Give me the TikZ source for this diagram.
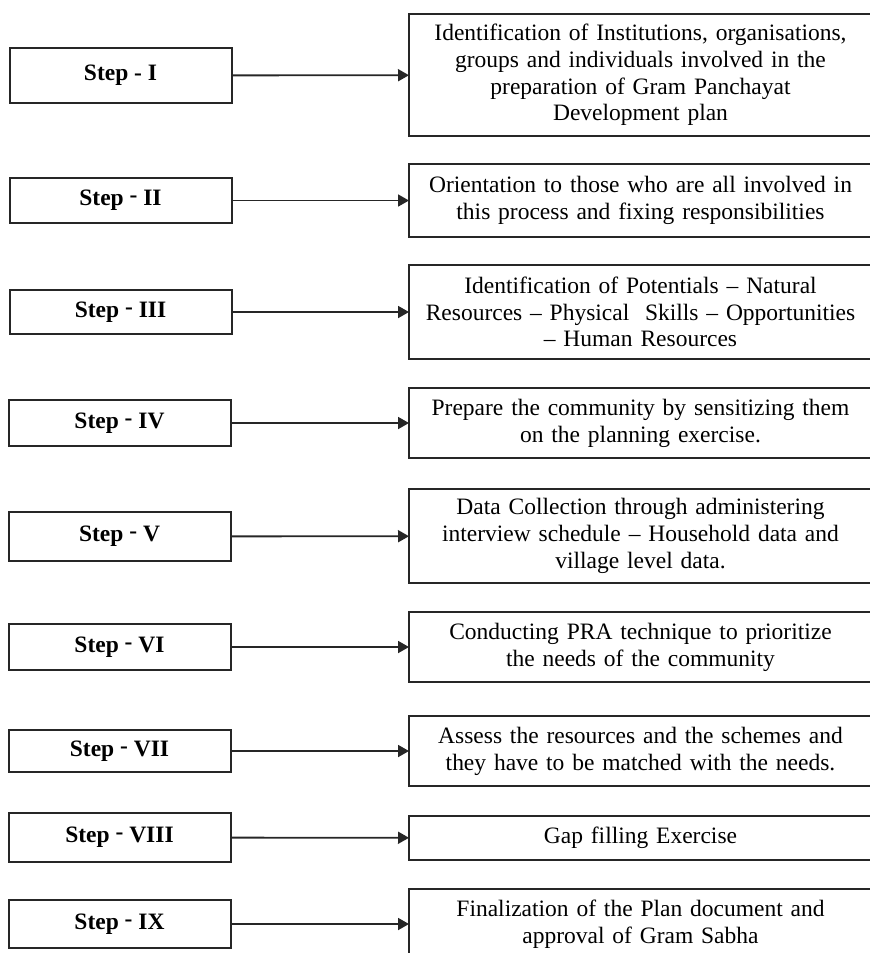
\documentclass[tikz,border=0pt]{standalone}
\usepackage{fontspec}
\setmainfont{Liberation Serif}
\usetikzlibrary{arrows.meta}

\tikzset{
  stepbox/.style={draw=black!85, line width=2pt, minimum width=222pt, inner sep=0pt, outer sep=0pt,
    font=\fontsize{23.5}{27}\selectfont\bfseries},
  descbox/.style={draw=black!85, line width=2pt, text width=446pt, inner xsep=8.5pt, inner ysep=0pt,
    outer sep=0pt, align=center, font=\fontsize{23.5}{26.8}\selectfont},
  link/.style={line width=1.8pt, draw=black!85, -{Triangle[length=11pt,width=12pt]}}
}
\newcommand{\stp}[1]{Step \raisebox{0.3ex}{-} #1}

\begin{document}
\begin{tikzpicture}[x=1pt,y=-1pt]
    \useasboundingbox (0,0) rectangle (870,953);
    \clip (0,0) rectangle (870,953);

    % Steps on the left
    \node[stepbox, minimum height=55pt] (s1) at (120.5,75.5) {Step - I};
    \node[stepbox, minimum height=45pt] (s2) at (120.5,200.5) {\stp{II}};
    \node[stepbox, minimum height=44pt] (s3) at (120.5,312) {\stp{III}};
    \node[stepbox, minimum height=46pt] (s4) at (119.5,423) {\stp{IV}};
    \node[stepbox, minimum height=49pt] (s5) at (119.5,536.5) {\stp{V}};
    \node[stepbox, minimum height=46pt] (s6) at (119.5,647) {\stp{VI}};
    \node[stepbox, minimum height=42pt] (s7) at (119.5,751) {\stp{VII}};
    \node[stepbox, minimum height=49pt] (s8) at (119.5,837.5) {\stp{VIII}};
    \node[stepbox, minimum height=48pt] (s9) at (119.5,924) {\stp{IX}};

    % Descriptions on the right
    \node[descbox, minimum height=122pt] (d1) at (640.5,75) {Identification of Institutions, organisations,\\ groups and individuals involved in the\\ preparation of Gram Panchayat\\ Development plan};
    \node[descbox, minimum height=73pt] (d2) at (640.5,200.5) {Orientation to those who are all involved in\\ this process and fixing responsibilities};
    \node[descbox, minimum height=94pt] (d3) at (640.5,312) {Identification of Potentials -- Natural\\ Resources -- Physical\ \ Skills -- Opportunities\\ -- Human Resources};
    \node[descbox, minimum height=70pt] (d4) at (640.5,423) {Prepare the community by sensitizing them\\ on the planning exercise.};
    \node[descbox, minimum height=94pt] (d5) at (640.5,536) {Data Collection through administering\\ interview schedule -- Household data and\\ village level data.};
    \node[descbox, minimum height=70pt] (d6) at (640.5,647) {Conducting PRA technique to prioritize\\ the needs of the community};
    \node[descbox, minimum height=70pt] (d7) at (640.5,751) {Assess the resources and the schemes and\\ they have to be matched with the needs.};
    \node[descbox, minimum height=44pt] (d8) at (640.5,838) {Gap filling Exercise};
    \node[descbox, minimum height=70pt] (d9) at (640.5,924) {Finalization of the Plan document and\\ approval of Gram Sabha};

    % Arrows
    \draw[link] (s1) -- (d1);
    \draw[link] (s2) -- (d2);
    \draw[link] (s3) -- (d3);
    \draw[link] (s4) -- (d4);
    \draw[link] (s5) -- (d5);
    \draw[link] (s6) -- (d6);
    \draw[link] (s7) -- (d7);
    \draw[link] (s8) -- (d8);
    \draw[link] (s9) -- (d9);
\end{tikzpicture}
\end{document}
